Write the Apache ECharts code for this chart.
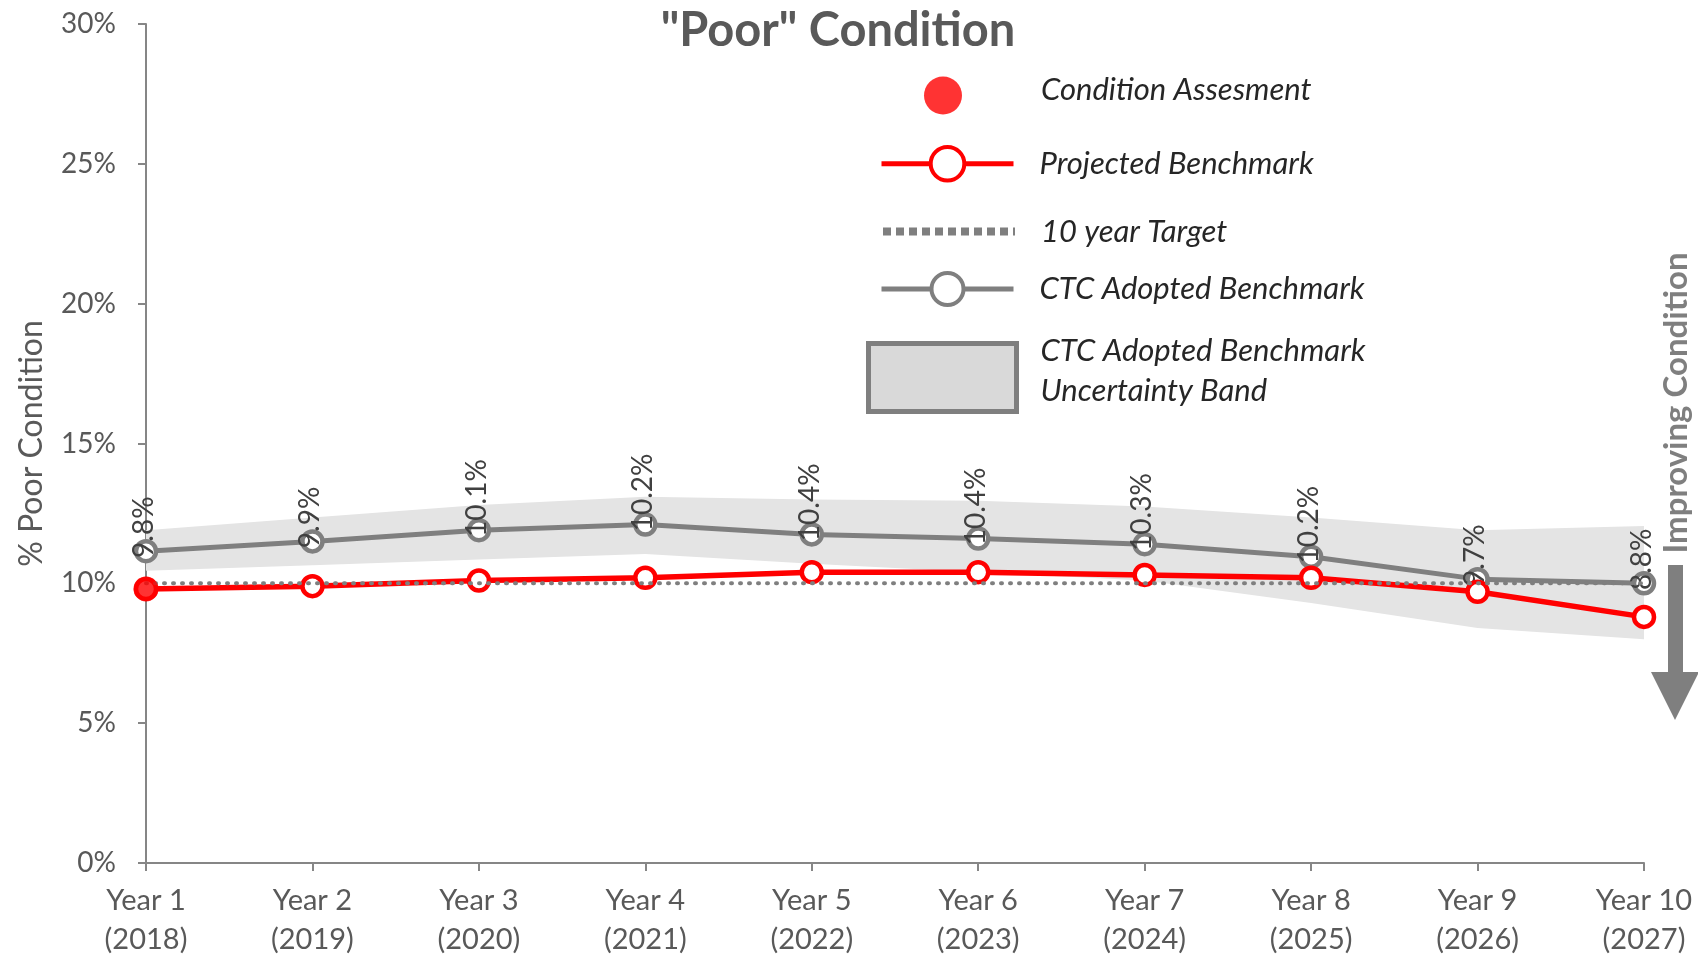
<!DOCTYPE html>
<html>
<head>
<meta charset="utf-8">
<script src="https://cdn.jsdelivr.net/npm/echarts@6/dist/echarts.min.js"></script>
<style>
  html, body { margin: 0; padding: 0; background: #fff; }
  #main { width: 1698px; height: 960px; }
</style>
</head>
<body>
<div id="main"></div>
<script>
// values (percent)
const categories = ['Year 1\n(2018)', 'Year 2\n(2019)', 'Year 3\n(2020)', 'Year 4\n(2021)', 'Year 5\n(2022)',
  'Year 6\n(2023)', 'Year 7\n(2024)', 'Year 8\n(2025)', 'Year 9\n(2026)', 'Year 10\n(2027)'];
const conditionAssessment = [9.8];
const projected = [9.8, 9.9, 10.1, 10.2, 10.4, 10.4, 10.3, 10.2, 9.7, 8.8];
const target = [10, 10, 10, 10, 10, 10, 10, 10, 10, 10];
const ctcAdopted = [11.15, 11.5, 11.9, 12.1, 11.75, 11.6, 11.4, 10.95, 10.15, 10.0];
const bandLower = [10.45, 10.65, 10.85, 11.05, 10.7, 10.4, 10.1, 9.3, 8.4, 8.0];
const bandUpper = [11.9, 12.35, 12.8, 13.1, 13.0, 12.95, 12.75, 12.35, 11.9, 12.05];
const yTicks = [0, 5, 10, 15, 20, 25, 30];

const chart = echarts.init(document.getElementById('main'));

const font = 'Lato, "Open Sans", sans-serif';
const red = '#ff0000';
const gray = '#7f7f7f';
const axisGray = '#868686';
const textGray = '#595959';

const bandDiff = bandUpper.map((v, i) => +(v - bandLower[i]).toFixed(2));

// one legend per row, so each row can sit where the original puts it
const legendText = {
  fontFamily: font,
  fontStyle: 'italic',
  fontSize: 31,
  color: '#262626',
  padding: [0, 0, 0, 21]
};
// an empty short last line lifts the text a little above the icon centre
const liftedText = (h) => Object.assign({}, legendText, {
  rich: {
    a: { fontFamily: font, fontStyle: 'italic', fontSize: 31, color: '#262626', lineHeight: 40 },
    s: { fontSize: 1, lineHeight: h }
  }
});
const lifted = (h) => name => name.split('\n').map(t => '{a|' + t + '}').join('\n') + '\n{s|}';

const legends = [
  {
    // the circle icon is drawn at the left of the item box
    left: 924, top: 74, itemWidth: 132, itemHeight: 38,
    data: [{ name: 'Condition Assesment', icon: 'circle' }],
    itemStyle: { color: red, borderWidth: 0 },
    formatter: lifted(12),
    textStyle: Object.assign(liftedText(12), { padding: [0, 0, 0, 27] })
  },
  {
    left: 879, top: 145, itemWidth: 132, itemHeight: 42,
    data: ['Projected Benchmark'],
    lineStyle: { color: red, width: 5 },
    itemStyle: { color: '#fff', borderColor: red, borderWidth: 4 }
  },
  {
    left: 879, top: 216, itemWidth: 132, itemHeight: 20,
    data: ['10 year Target'],
    lineStyle: { color: gray, width: 8, type: [8, 5], cap: 'butt' },
    itemStyle: { opacity: 0, borderWidth: 0 }
  },
  {
    left: 879, top: 271, itemWidth: 132, itemHeight: 40,
    data: ['CTC Adopted Benchmark'],
    lineStyle: { color: gray, width: 5 },
    itemStyle: { color: '#fff', borderColor: gray, borderWidth: 4 }
  },
  {
    left: 866, top: 335, itemWidth: 148, itemHeight: 68,
    data: [{ name: 'CTC Adopted Benchmark\nUncertainty Band', icon: 'rect' }],
    itemStyle: { color: '#d9d9d9', borderColor: gray, borderWidth: 5 },
    formatter: lifted(14),
    textStyle: Object.assign(liftedText(14), { padding: [0, 0, 0, 19] })
  }
].map(l => Object.assign({
  orient: 'vertical',
  padding: 0,
  selectedMode: false,
  textStyle: legendText
}, l));

const option = {
  backgroundColor: '#ffffff',
  animation: false,
  title: {
    text: '"Poor" Condition',
    left: 838,
    textAlign: 'center',
    top: 7,
    padding: 0,
    textStyle: {
      fontFamily: font,
      fontSize: 47,
      fontWeight: 'bold',
      color: textGray
    }
  },
  legend: legends,
  grid: {
    left: 146,
    right: 54,
    top: 24,
    bottom: 97,
    containLabel: false
  },
  xAxis: {
    type: 'category',
    data: categories,
    boundaryGap: false,
    axisLine: { lineStyle: { color: axisGray, width: 2 } },
    axisTick: { show: true, length: 8, interval: 0, lineStyle: { color: axisGray, width: 2 } },
    axisLabel: {
      interval: 0,
      fontFamily: font,
      fontSize: 29,
      lineHeight: 39,
      margin: 18,
      color: textGray
    }
  },
  yAxis: {
    type: 'value',
    min: yTicks[0],
    max: yTicks[yTicks.length - 1],
    interval: 5,
    name: '% Poor Condition',
    nameLocation: 'middle',
    nameGap: 98,
    nameTextStyle: { fontFamily: font, fontSize: 32, color: textGray },
    axisLine: { show: true, lineStyle: { color: axisGray, width: 2 } },
    axisTick: { show: true, length: 8, lineStyle: { color: axisGray, width: 2 } },
    splitLine: { show: false },
    axisLabel: {
      formatter: '{value}%',
      margin: 30,
      fontFamily: font,
      fontSize: 28,
      color: textGray
    }
  },
  series: [
    {
      name: 'bandBase',
      type: 'line',
      data: bandLower,
      stack: 'band',
      symbol: 'none',
      silent: true,
      lineStyle: { opacity: 0 },
      z: 1
    },
    {
      name: 'CTC Adopted Benchmark\nUncertainty Band',
      type: 'line',
      data: bandDiff,
      stack: 'band',
      symbol: 'none',
      silent: true,
      lineStyle: { opacity: 0 },
      areaStyle: { color: '#e4e4e4', opacity: 1 },
      z: 1
    },
    {
      name: 'CTC Adopted Benchmark',
      type: 'line',
      data: ctcAdopted,
      symbol: 'circle',
      symbolSize: 20,
      lineStyle: { color: gray, width: 5 },
      itemStyle: { color: '#fff', borderColor: gray, borderWidth: 4.5 },
      emphasis: { disabled: true },
      label: {
        show: true,
        formatter: p => projected[p.dataIndex].toFixed(1) + '%',
        rotate: 90,
        position: [10, 19],
        align: 'left',
        verticalAlign: 'middle',
        fontFamily: font,
        fontSize: 28,
        color: '#404040'
      },
      z: 2
    },
    {
      name: 'Projected Benchmark',
      type: 'line',
      data: projected,
      symbol: 'circle',
      symbolSize: 20,
      lineStyle: { color: red, width: 5.5 },
      itemStyle: { color: '#fff', borderColor: red, borderWidth: 4.5 },
      emphasis: { disabled: true },
      z: 3
    },
    {
      name: '10 year Target',
      type: 'line',
      data: target,
      symbol: 'none',
      lineStyle: { color: gray, width: 4, type: [1, 8], cap: 'round' },
      emphasis: { disabled: true },
      z: 4
    },
    {
      name: 'Condition Assesment',
      type: 'scatter',
      data: conditionAssessment.map((v, i) => [i, v]),
      symbol: 'circle',
      symbolSize: 25,
      itemStyle: { color: red },
      emphasis: { disabled: true },
      z: 5
    }
  ],
  graphic: [
    {
      type: 'text',
      x: 1676,
      y: 403,
      rotation: Math.PI / 2,
      style: {
        text: 'Improving Condition',
        font: 'bold 33px Lato, "Open Sans", sans-serif',
        fill: gray,
        align: 'center',
        verticalAlign: 'middle'
      }
    },
    {
      type: 'rect',
      shape: { x: 1668, y: 565, width: 15, height: 110 },
      style: { fill: gray }
    },
    {
      type: 'polygon',
      shape: { points: [[1651, 672], [1699, 672], [1675, 720]] },
      style: { fill: gray }
    }
  ]
};

chart.setOption(option);
</script>
</body>
</html>
